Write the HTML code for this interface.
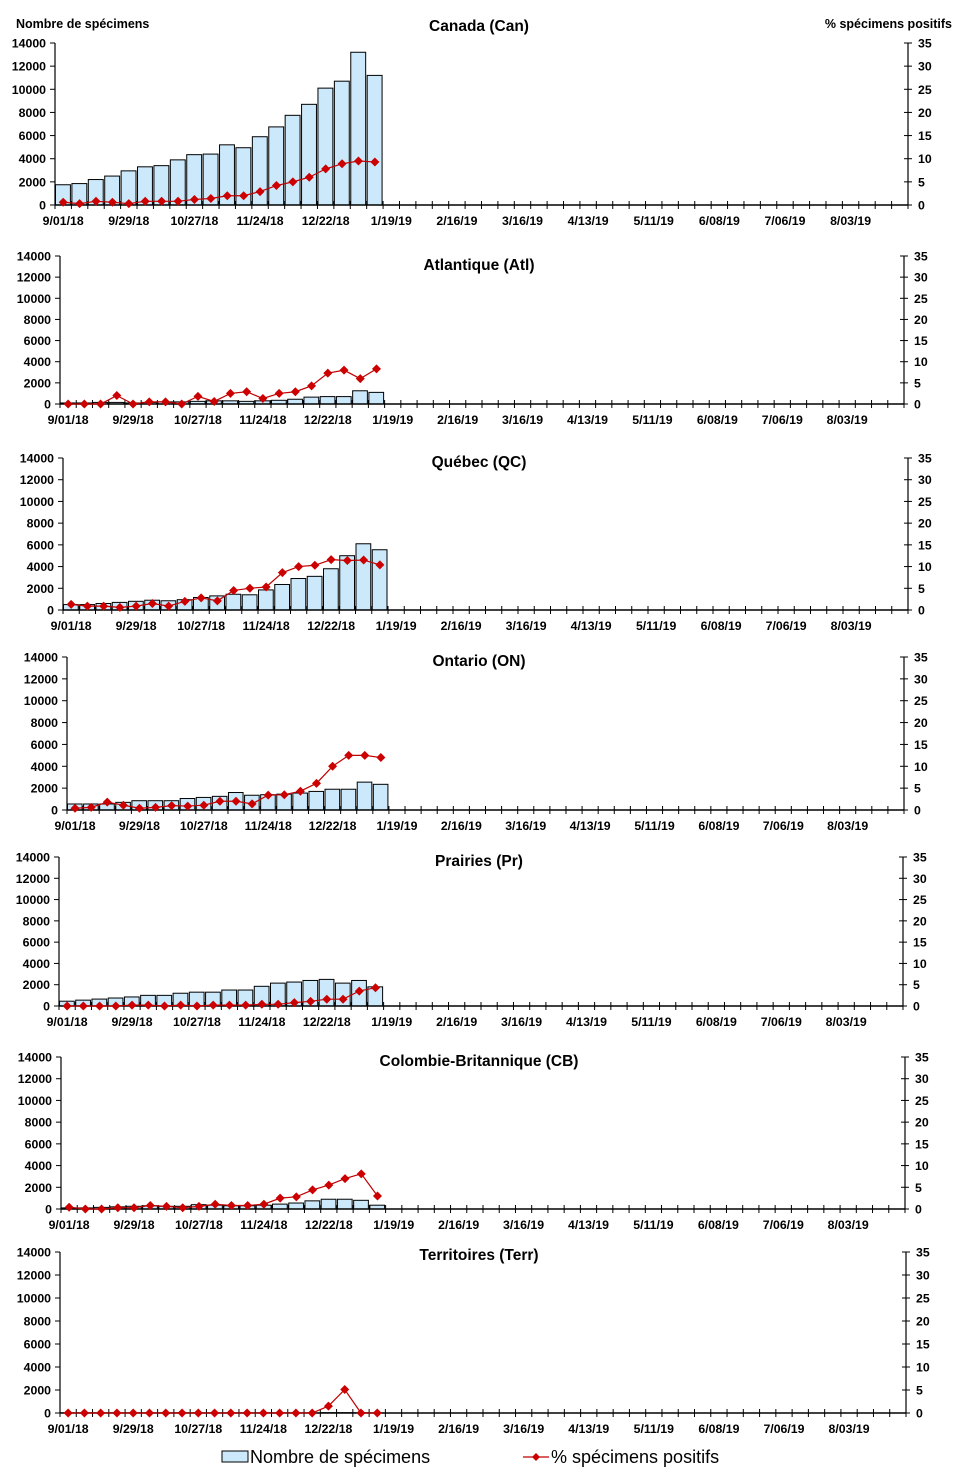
<!DOCTYPE html>
<html><head><meta charset="utf-8">
<style>
body{margin:0;background:#fff;}
svg{display:block;font-family:"Liberation Sans",Arial,sans-serif;}
</style></head>
<body>
<svg id="chart" width="958" height="1477" viewBox="0 0 958 1477" xmlns="http://www.w3.org/2000/svg">
<text x="16" y="28" font-size="12.5" font-weight="bold">Nombre de spécimens</text>
<text x="952" y="28" font-size="12.5" font-weight="bold" text-anchor="end">% spécimens positifs</text>
<g>
<rect x="222" y="1451" width="26" height="11" fill="#cce8fb" stroke="#000" stroke-width="1"/>
<text x="250" y="1463" font-size="18">Nombre de spécimens</text>
<line x1="523" y1="1457" x2="549" y2="1457" stroke="#c00000" stroke-width="1.3"/>
<path d="M536 1453 L540 1457 L536 1461 L532 1457 Z" fill="#cc0000"/>
<text x="551" y="1463" font-size="18">% spécimens positifs</text>
</g>
</svg>
<script>
const weekLabels = ["9/01/18","9/29/18","10/27/18","11/24/18","12/22/18","1/19/19","2/16/19","3/16/19","4/13/19","5/11/19","6/08/19","7/06/19","8/03/19"];
const leftTicks = [0,2000,4000,6000,8000,10000,12000,14000];
const rightTicks = [0,5,10,15,20,25,30,35];
const panelTitles = ["Canada (Can)","Atlantique (Atl)","Québec (QC)","Ontario (ON)","Prairies (Pr)","Colombie-Britannique (CB)","Territoires (Terr)"];
const canSpecimens = [1750,1850,2200,2500,2950,3300,3400,3900,4350,4400,5200,4950,5900,6750,7750,8700,10100,10700,13200,11200];
const canPositive = [0.6,0.3,0.8,0.6,0.3,0.8,0.8,0.8,1.2,1.4,2.0,2.0,2.9,4.2,5.0,6.0,7.8,8.9,9.5,9.3];
const atlSpecimens = [100,100,150,150,100,150,200,200,250,300,300,250,300,350,450,650,700,700,1250,1100];
const atlPositive = [0,0,0,2.0,0,0.5,0.5,0,1.8,0.6,2.5,2.9,1.3,2.5,2.9,4.3,7.3,8.0,6.0,8.3];
const qcSpecimens = [500,500,600,700,800,900,850,950,1150,1300,1450,1400,1850,2350,2900,3100,3800,5000,6100,5550];
const qcPositive = [1.3,0.9,0.9,0.6,0.9,1.5,0.9,2.0,2.8,2.1,4.5,5.0,5.3,8.6,10.0,10.3,11.6,11.4,11.5,10.4];
const onSpecimens = [550,550,550,700,850,850,850,1050,1150,1250,1600,1350,1400,1450,1550,1700,1900,1900,2550,2350];
const onPositive = [0.4,0.6,1.8,1.1,0.4,0.6,1.0,0.9,1.1,2.0,2.0,1.4,3.4,3.5,4.3,6.1,10.0,12.5,12.5,12.0];
const prSpecimens = [450,550,650,750,850,1000,1000,1200,1300,1300,1500,1500,1850,2150,2250,2400,2500,2150,2400,1800];
const prPositive = [0,0,0,0,0.2,0.2,0,0.2,0,0.2,0.2,0.2,0.4,0.4,0.8,1.1,1.6,1.6,3.5,4.3];
const cbSpecimens = [100,100,150,200,250,300,250,250,400,350,300,300,350,450,550,750,900,900,800,350];
const cbPositive = [0.4,0,0,0.3,0.3,0.8,0.6,0.3,0.6,1.1,0.8,0.8,1.1,2.5,2.8,4.4,5.5,7.0,8.1,3.0];
const terrSpecimens = [10,10,10,10,10,10,10,10,10,10,10,10,10,10,10,10,30,30,20,10];
const terrPositive = [0,0,0,0,0,0,0,0,0,0,0,0,0,0,0,0,1.5,5.1,0,0];

const specimenSeries = [canSpecimens,atlSpecimens,qcSpecimens,onSpecimens,prSpecimens,cbSpecimens,terrSpecimens];
const positiveSeries = [canPositive,atlPositive,qcPositive,onPositive,prPositive,cbPositive,terrPositive];
// layout: [leftX, rightX, topY, bottomY, titleY]
const layouts = [[55,908,43,205,31],[60,904,256,404,270],[63,908,458,610,467],[67,904,657,810,666],[59,903,857,1006,866],[61,905,1057,1209,1066],[60,906,1252,1413,1260]];
const NW = 52;
const NS = "http://www.w3.org/2000/svg";
const svg = document.getElementById('chart');
function mk(tag, attrs, parent){const e=document.createElementNS(NS,tag);for(const k in attrs)e.setAttribute(k,attrs[k]);(parent||svg).appendChild(e);return e;}

layouts.forEach((L,p)=>{
  const [x0,x1,yt,yb,ty]=L;
  const step=(x1-x0)/NW;
  const xBand=i=>x0+i*step;
  const yL=v=>yb-(v/14000)*(yb-yt);
  const yR=v=>yb-(v/35)*(yb-yt);
  const g=mk('g',{});
  
  
  const t=mk('text',{x:479,y:ty,'font-size':15.5,'font-weight':'bold','text-anchor':'middle'},g);
  t.textContent=panelTitles[p];
  
  
  specimenSeries[p].forEach((v,i)=>{
    const bx=xBand(i)+0.5, bw=step-1.5;
    const r=mk('rect',{x:bx,y:yL(v),width:bw,height:Math.max(0,yb-yL(v)),fill:'#cce8fb',stroke:'#000','stroke-width':1},g);
    
    
  });
  const la=mk('line',{x1:x0,y1:yt,x2:x0,y2:yb,stroke:'#000','stroke-width':1.2},g);
  
  
  const ra=mk('line',{x1:x1,y1:yt,x2:x1,y2:yb,stroke:'#000','stroke-width':1.2},g);
  
  
  const xa=mk('line',{x1:x0,y1:yb,x2:x1,y2:yb,stroke:'#000','stroke-width':1.5},g);
  
  
  leftTicks.forEach(v=>{
    mk('line',{x1:x0-5,y1:yL(v),x2:x0,y2:yL(v),stroke:'#000'},g);
    const tx=mk('text',{x:x0-9,y:yL(v)+4.5,'font-size':12.3,'font-weight':'bold','text-anchor':'end'},g);
    tx.textContent=v;
    
    
  });
  rightTicks.forEach(v=>{
    mk('line',{x1:x1-4,y1:yR(v),x2:x1+4,y2:yR(v),stroke:'#000'},g);
    const tx=mk('text',{x:x1+10,y:yR(v)+4.5,'font-size':12.3,'font-weight':'bold'},g);
    tx.textContent=v;
    
    
  });
  for(let i=0;i<=NW;i++){mk('line',{x1:xBand(i),y1:yb-4,x2:xBand(i),y2:yb+4,stroke:'#000'},g);}
  weekLabels.forEach((lab,k)=>{
    const tx=mk('text',{x:xBand(k*4)+step/2,y:yb+20,'font-size':12.3,'font-weight':'bold','text-anchor':'middle'},g);
    tx.textContent=lab;
    
    
  });
  const pts=positiveSeries[p].map((v,i)=>[xBand(i)+step/2,yR(v)]);
  const pl=mk('polyline',{points:pts.map(q=>q.join(',')).join(' '),fill:'none',stroke:'#c00000','stroke-width':1.2},g);
  
  
  pts.forEach(([cx,cy],i)=>{
    const d=mk('path',{d:`M${cx} ${cy-4.5} L${cx+4.5} ${cy} L${cx} ${cy+4.5} L${cx-4.5} ${cy} Z`,fill:'#cc0000'},g);
    
    
  });
});
</script>
</body></html>
